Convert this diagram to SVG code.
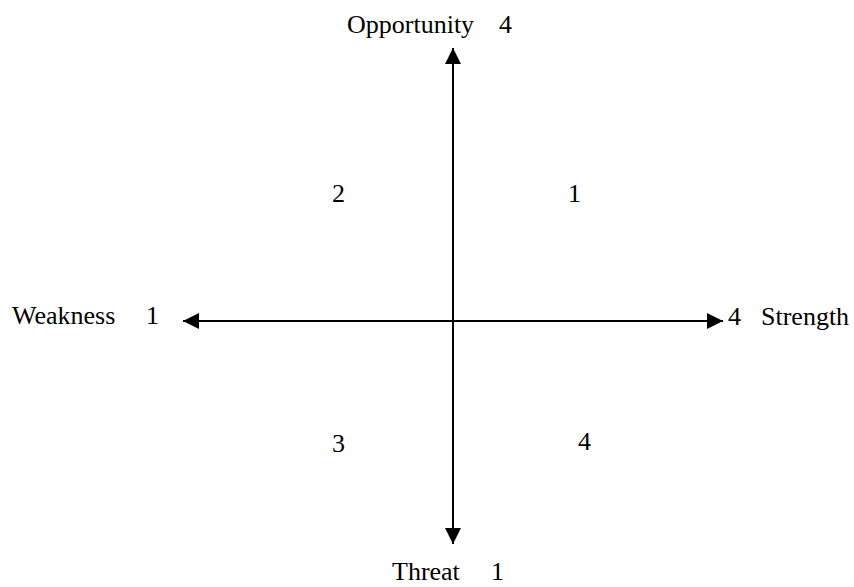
<svg xmlns="http://www.w3.org/2000/svg" width="854" height="587" viewBox="0 0 854 587">
<style>
text{font-family:"Liberation Serif","Times New Roman",serif;font-size:26px;fill:#000}
.ax{stroke:#000;stroke-width:2;fill:none}
</style>
<defs>
<marker id="ah" viewBox="0 0 16 16" refX="16" refY="8" markerWidth="16" markerHeight="16" markerUnits="userSpaceOnUse" orient="auto">
<path d="M0,0 L16,8 L0,16 Z" fill="#000"/>
</marker>
</defs>
<rect width="854" height="587" fill="#fff"/>
<g id="connectors">
<line class="ax" x1="453" y1="321" x2="453" y2="48" marker-end="url(#ah)"/>
<line class="ax" x1="453" y1="321" x2="453" y2="544" marker-end="url(#ah)"/>
<line class="ax" x1="453" y1="321" x2="183" y2="321" marker-end="url(#ah)"/>
<line class="ax" x1="453" y1="321" x2="723" y2="321" marker-end="url(#ah)"/>
</g>
<g id="opportunity"><text x="347" y="33">Opportunity</text><text x="499" y="33">4</text></g>
<g id="threat"><text x="392" y="580">Threat</text><text x="491" y="580">1</text></g>
<g id="weakness"><text x="12" y="324">Weakness</text><text x="146" y="324">1</text></g>
<g id="strength"><text x="728" y="325">4</text><text x="761" y="325">Strength</text></g>
<g id="q1"><text x="568" y="202">1</text></g>
<g id="q2"><text x="332" y="202">2</text></g>
<g id="q3"><text x="332" y="452">3</text></g>
<g id="q4"><text x="578" y="450">4</text></g>
</svg>
